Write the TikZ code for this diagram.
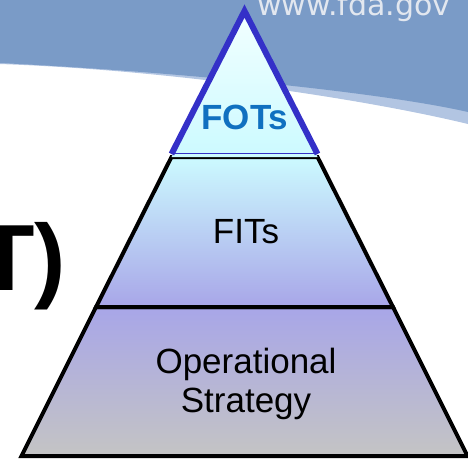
\documentclass[tikz,border=0pt]{standalone}
\usepackage{fontspec}
\setmainfont{Liberation Sans}
\newfontfamily\webfont{DejaVu Sans}
\usetikzlibrary{calc}
\definecolor{fdablue}{RGB}{122,155,199}
\definecolor{fdalight}{RGB}{178,197,226}
\definecolor{fdatext}{RGB}{226,231,239}
\definecolor{fotsblue}{RGB}{16,112,192}
\definecolor{edgeblue}{RGB}{52,48,200}
\definecolor{tipcyan}{RGB}{242,255,255}
\definecolor{midcyan}{RGB}{204,250,255}
\definecolor{lavender}{RGB}{168,166,232}
\definecolor{basegray}{RGB}{196,196,196}

\begin{document}
\begin{tikzpicture}[x=1pt,y=-1pt,
    layer/.style={line width=4pt, line join=miter},
    label/.style={inner sep=0pt, anchor=base, font=\fontsize{35}{39}\selectfont}]
			%%%%% START %%%%%
			\useasboundingbox (0,0) rectangle (468,459);
			\clip (0,0) rectangle (468,459);
			
			% header band
			\fill[fdalight] (0,0) -- (468,0) -- (468,124) .. controls (360,98) and (170,70) .. (0,64) -- cycle;
			\fill[fdablue] (0,0) -- (468,0) -- (468,112) .. controls (380,92) and (180,72) .. (0,63) -- cycle;
			\node[inner sep=0pt, anchor=base west, text=fdatext, font=\webfont\fontsize{30}{30}\selectfont] (web) at (257,15) {www.fda.gov};
			
			% title end
			\node[inner sep=0pt, anchor=base west, font=\bfseries\fontsize{94}{94}\selectfont] (title) at (-23,290) {T)};
			
			% pyramid corners
			\coordinate (apex) at (244.5,11);
			\coordinate (tl) at (171.5,157);  \coordinate (tr) at (317.5,157);
			\coordinate (ml) at (96,307);     \coordinate (mr) at (393,307);
			\coordinate (bl) at (21.5,456);   \coordinate (br) at (467.5,456);
			
			\shade[top color=lavender, bottom color=basegray] (ml) -- (mr) -- (br) -- (bl) -- cycle;
			\draw[layer] (ml) -- (mr) -- (br) -- (bl) -- cycle;
			
			\shade[top color=midcyan, bottom color=lavender] (tl) -- (tr) -- (mr) -- (ml) -- cycle;
			\draw[layer] (tl) -- (tr) -- (mr) -- (ml) -- cycle;
			
			\shade[top color=tipcyan, bottom color=midcyan] (apex) -- (tr) -- (tl) -- cycle;
			\draw[edgeblue, line width=6pt, line join=miter] ($(tl)+(0,-3)$) -- (apex) -- ($(tr)+(0,-3)$);
			\draw[edgeblue, line width=1.2pt] ($(tl)+(0,-3.5)$) -- ($(tr)+(0,-3.5)$);
			
			\node[label, text=fotsblue, font=\bfseries\fontsize{35}{39}\selectfont] (fots) at (245,129) {FOTs};
			\node[label] (fits) at (246,243) {FITs};
			\node[label, align=center] (strategy) at (246,412) {Operational\\Strategy};
			%%%%% END %%%%%
\end{tikzpicture}
\end{document}
